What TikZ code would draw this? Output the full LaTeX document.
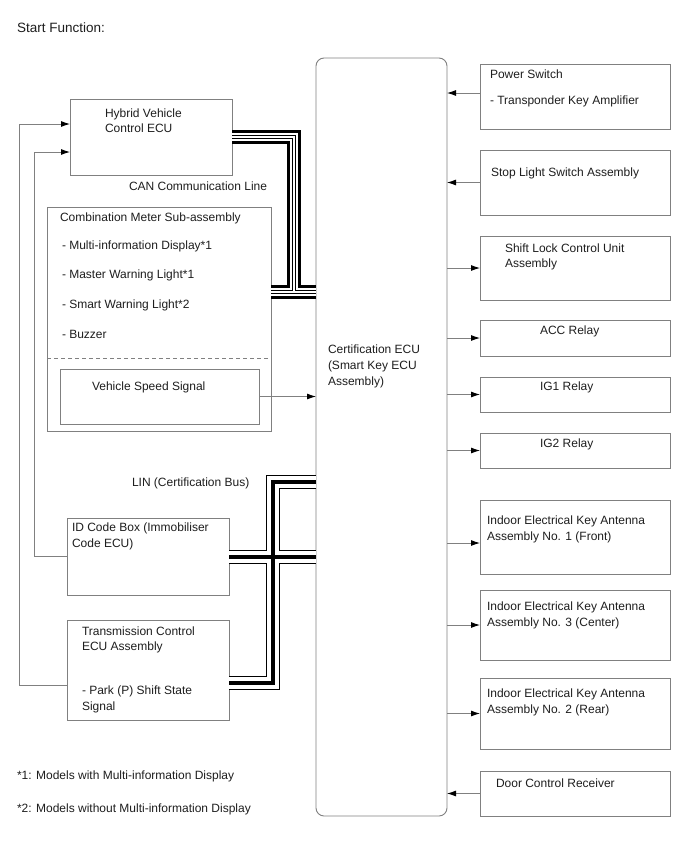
\documentclass[tikz,border=0pt]{standalone}
\usepackage{fontspec}
\setmainfont{Liberation Sans}
\usetikzlibrary{arrows.meta}
\definecolor{boxgray}{RGB}{128,128,128}
\definecolor{txtc}{RGB}{30,30,30}
\begin{document}
\begin{tikzpicture}[x=1pt,y=-1pt,
  box/.style={draw=boxgray, line width=0.9pt, inner sep=0pt, outer sep=0pt, anchor=north west},
  txt/.style={anchor=base west, inner sep=0pt, outer sep=0pt, font=\fontsize{12}{14}\selectfont, text=txtc},
  arr/.style={draw=boxgray, line width=0.9pt, -{Latex[length=9pt,width=6pt,black]}},
  line join=miter, line cap=butt]
\useasboundingbox (0,0) rectangle (688,852);
\fill[white] (0,0) rectangle (688,852);

% title
\node[txt, font=\fontsize{13.5}{16}\selectfont] (title) at (17,32) {Start Function:};

% Certification ECU
\node[box, rounded corners=8pt, minimum width=131, minimum height=758] (cert) at (316,58) {};
\node[txt] (certt1) at (328,353) {Certification ECU};
\node[txt] (certt2) at (328,369) {(Smart Key ECU};
\node[txt] (certt3) at (328,385) {Assembly)};

% left boxes
\node[box, minimum width=162, minimum height=76] (hv) at (70,99) {};
\node[txt] (hvt1) at (105,117) {Hybrid Vehicle};
\node[txt] (hvt2) at (105,132) {Control ECU};
\node[txt] (cantxt) at (129,190) {CAN Communication Line};

\node[box, minimum width=224, minimum height=224] (cm) at (47,207) {};
\node[txt] (cmt) at (60,221) {Combination Meter Sub-assembly};
\node[txt] (cm1) at (62,249) {- Multi-information Display*1};
\node[txt] (cm2) at (62,278) {- Master Warning Light*1};
\node[txt] (cm3) at (62,308) {- Smart Warning Light*2};
\node[txt] (cm4) at (62,338) {- Buzzer};
\draw[boxgray, line width=0.8pt, dash pattern=on 4pt off 3pt] (cm.west |- 0,358) -- (cm.east |- 0,358);
\node[box, minimum width=199, minimum height=55] (vs) at (60,369) {};
\node[txt] (vst) at (92,390) {Vehicle Speed Signal};

\node[txt] (lintxt) at (132,486) {LIN (Certification Bus)};

\node[box, minimum width=162, minimum height=77] (id) at (67,518) {};
\node[txt] (idt1) at (72,531) {ID Code Box (Immobiliser};
\node[txt] (idt2) at (72,547) {Code ECU)};

\node[box, minimum width=162, minimum height=100] (tr) at (67,620) {};
\node[txt] (trt1) at (82,635) {Transmission Control};
\node[txt] (trt2) at (82,650) {ECU Assembly};
\node[txt] (trt3) at (82,694) {- Park (P) Shift State};
\node[txt] (trt4) at (82,710) {Signal};

\node[txt] (fn1) at (17,779) {*1: Models with Multi-information Display};
\node[txt] (fn2) at (17,812) {*2: Models without Multi-information Display};

% right boxes
\node[box, minimum width=190, minimum height=65] (pw) at (480,64) {};
\node[txt] (pwt1) at (490,78) {Power Switch};
\node[txt] (pwt2) at (490,104) {- Transponder Key Amplifier};

\node[box, minimum width=190, minimum height=65] (sl) at (480,150) {};
\node[txt] (slt) at (491,176) {Stop Light Switch Assembly};

\node[box, minimum width=190, minimum height=64] (sh) at (480,236) {};
\node[txt] (sht1) at (505,252) {Shift Lock Control Unit};
\node[txt] (sht2) at (505,267) {Assembly};

\node[box, minimum width=190, minimum height=36] (acc) at (480,320) {};
\node[txt] (acct) at (540,334) {ACC Relay};

\node[box, minimum width=190, minimum height=35] (ig1) at (480,377) {};
\node[txt] (ig1t) at (540,390) {IG1 Relay};

\node[box, minimum width=190, minimum height=35] (ig2) at (480,433) {};
\node[txt] (ig2t) at (540,447) {IG2 Relay};

\node[box, minimum width=190, minimum height=74] (an1) at (480,500) {};
\node[txt] (an1t1) at (487,524) {Indoor Electrical Key Antenna};
\node[txt] (an1t2) at (487,540) {Assembly No. 1 (Front)};

\node[box, minimum width=190, minimum height=70] (an3) at (480,590) {};
\node[txt] (an3t1) at (487,610) {Indoor Electrical Key Antenna};
\node[txt] (an3t2) at (487,626) {Assembly No. 3 (Center)};

\node[box, minimum width=190, minimum height=71] (an2) at (480,678) {};
\node[txt] (an2t1) at (487,697) {Indoor Electrical Key Antenna};
\node[txt] (an2t2) at (487,713) {Assembly No. 2 (Rear)};

\node[box, minimum width=190, minimum height=45] (dr) at (480,771) {};
\node[txt] (drt) at (496,787) {Door Control Receiver};

% arrows right side
\draw[arr] ([yshift=3.5]pw.west) -- ([yshift=3.5]pw.west -| cert.east);
\draw[arr] (sl.west) -- (sl.west -| cert.east);
\draw[arr] (sh.west -| cert.east) -- (sh.west);
\draw[arr] (acc.west -| cert.east) -- (acc.west);
\draw[arr] (ig1.west -| cert.east) -- (ig1.west);
\draw[arr] (ig2.west -| cert.east) -- (ig2.west);
\draw[arr] ([yshift=-6]an1.west -| cert.east) -- ([yshift=-6]an1.west);
\draw[arr] (an3.west -| cert.east) -- (an3.west);
\draw[arr] (an2.west -| cert.east) -- (an2.west);
\draw[arr] (dr.west) -- (dr.west -| cert.east);

% vehicle speed
\draw[arr] (vs.east) -- (vs.east -| cert.west);

% left feedback lines
\coordinate (lx1) at (34,0);
\coordinate (lx2) at (19,0);
\draw[arr] (id.west) -- (id.west -| lx1) |- ([yshift=-15]hv.west);
\draw[arr] ([yshift=-15]tr.west) -- ([yshift=-15]tr.west -| lx2) |- ([yshift=13]hv.west);

% CAN bus (layered pair)
\foreach \w/\c in {14/black, 8/white, 3.8/black, 2.2/white}{
  \draw[line width=\w pt, \c] (hv.east |- 0,137) -- (294,137) -- (294,292)
        (cm.east |- 0,292) -- (cert.west |- 0,292);
}

% LIN bus (cable)
\foreach \w/\c in {13.5/black, 11.5/white, 3.6/black}{
  \draw[line width=\w pt, \c] (cert.west |- 0,482) -- (273,482) -- (273,683) -- (tr.east |- 0,683)
        (id.east |- 0,557) -- (cert.west |- 0,557);
}
\end{tikzpicture}
\end{document}
